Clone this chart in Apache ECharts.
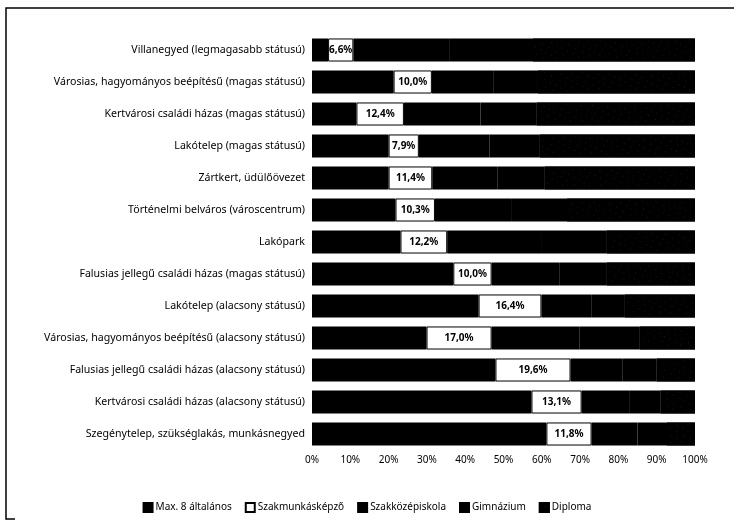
<!DOCTYPE html>
<html>
<head>
<meta charset="utf-8">
<script src="https://cdn.jsdelivr.net/npm/echarts@6/dist/echarts.min.js"></script>
<style>html,body{margin:0;padding:0;background:#fff}#c{width:734px;height:529px}</style>
</head>
<body>
<div id="c"></div>
<script>
const categories = [
  "Villanegyed (legmagasabb státusú)",
  "Városias, hagyományos beépítésű (magas státusú)",
  "Kertvárosi családi házas (magas státusú)",
  "Lakótelep (magas státusú)",
  "Zártkert, üdülőövezet",
  "Történelmi belváros (városcentrum)",
  "Lakópark",
  "Falusias jellegű családi házas (magas státusú)",
  "Lakótelep (alacsony státusú)",
  "Városias, hagyományos beépítésű (alacsony státusú)",
  "Falusias jellegű családi házas (alacsony státusú)",
  "Kertvárosi családi házas (alacsony státusú)",
  "Szegénytelep, szükséglakás, munkásnegyed"
];
const seriesNames = ["Max. 8 általános", "Szakmunkásképző", "Szakközépiskola", "Gimnázium", "Diploma"];
const max8        = [4.2, 21.3, 11.6, 20.0, 20.0, 21.8, 23.1, 36.9, 43.5, 29.9, 47.9, 57.3, 61.2];
const szakmunkas  = [6.6, 10.0, 12.4, 7.9, 11.4, 10.3, 12.2, 10.0, 16.4, 17.0, 19.6, 13.1, 11.8];
const szakkozep   = [25.0, 16.0, 20.0, 18.4, 17.1, 20.1, 24.5, 17.8, 13.0, 23.0, 13.5, 12.4, 12.0];
const gimnazium   = [21.9, 11.7, 14.7, 13.2, 12.3, 14.4, 17.2, 12.3, 8.8, 15.7, 9.0, 8.2, 7.7];
const diploma     = [42.3, 41.0, 41.3, 40.5, 39.2, 33.4, 23.0, 23.0, 18.3, 14.4, 10.0, 9.0, 7.3];
const xTicks = [0, 10, 20, 30, 40, 50, 60, 70, 80, 90, 100];

const FONT = "Noto Sans";
const chart = echarts.init(document.getElementById('c'), null, {renderer: 'canvas'});
const values = [max8, szakmunkas, szakkozep, gimnazium, diploma];
const fills = ['#000', '#fff', '#000', '#000', '#000'];

const series = seriesNames.map((name, i) => {
  const s = {
    name: name,
    type: 'bar',
    stack: 'total',
    barCategoryGap: '28%',
    data: values[i],
    itemStyle: {color: fills[i], borderColor: '#000', borderWidth: i === 1 ? 1 : 2},
    emphasis: {disabled: true}
  };
  if (i === 1) {
    s.label = {
      show: true, position: 'inside', color: '#000', fontFamily: FONT,
      fontSize: 10, fontWeight: 'bold',
      formatter: p => p.value.toFixed(1).replace('.', ',') + '%'
    };
  }
  if (i === 4) {
    s.itemStyle.decal = {
      symbol: 'rect', symbolSize: 0.4, color: 'rgba(255,255,255,0.45)',
      dashArrayX: [[1, 7], [1, 5]], dashArrayY: [1, 5], rotation: 0.5
    };
  }
  return s;
});

chart.setOption({
  backgroundColor: '#fff',
  animation: false,
  textStyle: {fontFamily: FONT},
  grid: {left: 312, right: 39, top: 34, bottom: 79, containLabel: false},
  legend: {
    data: seriesNames, top: 497, left: 'center', icon: 'rect',
    itemWidth: 9, itemHeight: 9, itemGap: 13,
    textStyle: {fontFamily: FONT, fontSize: 10, color: '#000', padding: [0, 0, 0, -2]}
  },
  xAxis: {
    type: 'value', min: xTicks[0], max: xTicks[xTicks.length - 1], interval: 10,
    axisLine: {show: false}, axisTick: {show: false}, splitLine: {show: false},
    axisLabel: {formatter: '{value}%', color: '#000', fontFamily: FONT, fontSize: 10, margin: 5}
  },
  yAxis: {
    type: 'category', data: categories, inverse: true,
    axisLine: {show: false}, axisTick: {show: false},
    axisLabel: {color: '#000', fontFamily: FONT, fontSize: 10.6, margin: 7}
  },
  series: series,
  graphic: [{
    type: 'polyline',
    shape: {points: [[15, 519], [6, 519], [6, 8], [734, 8]]},
    style: {stroke: '#000', lineWidth: 1.5, fill: null}
  }]
});
</script>
</body>
</html>
